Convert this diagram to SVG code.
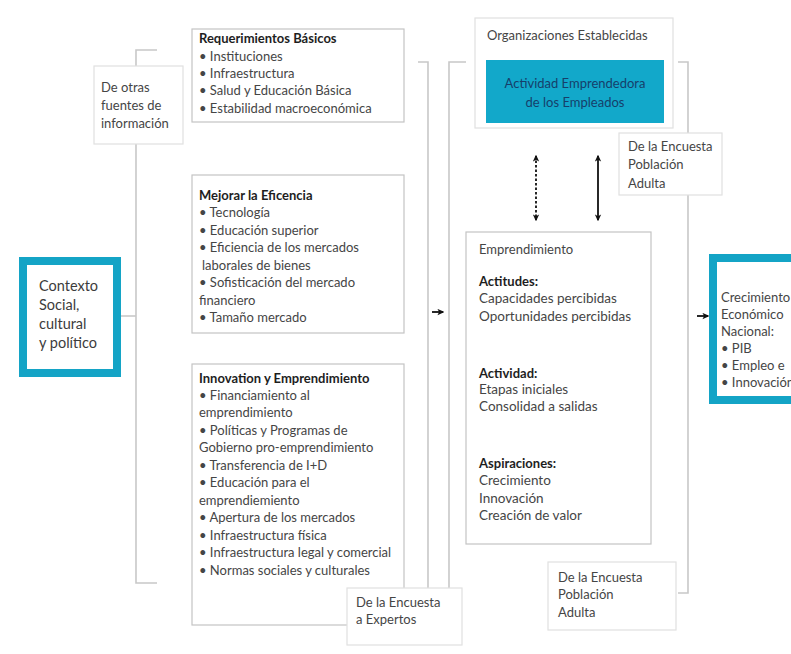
<svg xmlns="http://www.w3.org/2000/svg" width="791" height="654" viewBox="0 0 791 654">
<defs>
<style>
text{font-family:Lato,"Open Sans","Liberation Sans",sans-serif;font-size:13px;fill:#454545}
.b{font-weight:bold;fill:#1e1e1e}
.box{fill:#fff;stroke:#c4c4c4;stroke-width:1.2}
.lbox{fill:#fff;stroke:#e0e0e0;stroke-width:1.2}
.teal{fill:#fff;stroke:#14a4c6;stroke-width:8}
.ln{fill:none;stroke:#c8c8c8;stroke-width:1.6}
.ar{fill:none;stroke:#111;stroke-width:1.8}
.big{font-size:14.5px;fill:#3c3c3c}
.cr{font-size:13px}
</style>
<marker id="ah" viewBox="0 0 10 10" refX="8" refY="5" markerWidth="7" markerHeight="7" orient="auto-start-reverse" markerUnits="userSpaceOnUse">
<path d="M0,0.5 L10,5 L0,9.5 L2.5,5 z" fill="#111"/>
</marker>
</defs>
<rect width="791" height="654" fill="#fff"/>

<g id="connectors">
<path class="ln" d="M157,50 H136 V583 H157"/>
<path class="ln" d="M121,316 H136"/>
<path class="ln" d="M418,62 H428 V600"/>
<path class="ln" d="M466,62 H449 V600"/>
<path class="ln" d="M678,62 H688 V593 H678"/>
<path class="ar" d="M432,312 H443" marker-end="url(#ah)"/>
<path class="ar" d="M697,316 H708" marker-end="url(#ah)"/>
<path class="ar" d="M536,156 V220" stroke-dasharray="2.5,2" marker-start="url(#ah)" marker-end="url(#ah)"/>
<path class="ar" d="M598,156 V220" marker-start="url(#ah)" marker-end="url(#ah)"/>
</g>

<g id="otras">
<rect class="lbox" x="94" y="66" width="89" height="78"/>
<text x="101" y="92">De otras</text>
<text x="101" y="110">fuentes de</text>
<text x="101" y="128">información</text>
</g>

<g id="contexto">
<rect class="teal" x="23" y="261" width="94" height="112"/>
<text class="big" x="39" y="291">Contexto</text>
<text class="big" x="39" y="310">Social,</text>
<text class="big" x="39" y="329">cultural</text>
<text class="big" x="39" y="348">y político</text>
</g>

<g id="requerimientos">
<rect class="box" x="192" y="29" width="212" height="93"/>
<text class="b" x="199" y="43">Requerimientos Básicos</text>
<text x="199" y="61">• Instituciones</text>
<text x="199" y="78">• Infraestructura</text>
<text x="199" y="95">• Salud y Educación Básica</text>
<text x="199" y="113">• Estabilidad macroeconómica</text>
</g>

<g id="eficiencia">
<rect class="box" x="192" y="175" width="212" height="158"/>
<text class="b" x="199" y="200">Mejorar la Eficencia</text>
<text x="199" y="217">• Tecnología</text>
<text x="199" y="235">• Educación superior</text>
<text x="199" y="252">• Eficiencia de los mercados</text>
<text x="202" y="270">laborales de bienes</text>
<text x="199" y="287">• Sofisticación del mercado</text>
<text x="199" y="305">financiero</text>
<text x="199" y="322">• Tamaño mercado</text>
</g>

<g id="innovation">
<rect class="box" x="192" y="364" width="212" height="261"/>
<text class="b" x="199" y="383">Innovation y Emprendimiento</text>
<text x="199" y="400">• Financiamiento al</text>
<text x="199" y="417">emprendimiento</text>
<text x="199" y="435">• Políticas y Programas de</text>
<text x="199" y="452">Gobierno pro-emprendimiento</text>
<text x="199" y="470">• Transferencia de I+D</text>
<text x="199" y="487">• Educación para el</text>
<text x="199" y="505">emprendiemiento</text>
<text x="199" y="522">• Apertura de los mercados</text>
<text x="199" y="540">• Infraestructura física</text>
<text x="199" y="557">• Infraestructura legal y comercial</text>
<text x="199" y="575">• Normas sociales y culturales</text>
</g>

<g id="expertos">
<rect class="lbox" x="347" y="588" width="115" height="57"/>
<text x="356" y="607">De la Encuesta</text>
<text x="356" y="624">a Expertos</text>
</g>

<g id="organizaciones">
<rect class="lbox" x="475" y="18" width="198" height="110"/>
<text x="487" y="40">Organizaciones Establecidas</text>
<rect x="486" y="60" width="178" height="63" fill="#12a8ca"/>
<text x="575" y="88" text-anchor="middle" style="fill:#163f6a">Actividad Emprendedora</text>
<text x="575" y="107" text-anchor="middle" style="fill:#163f6a">de los Empleados</text>
</g>

<g id="encuesta-top">
<rect class="lbox" x="619" y="133" width="103" height="62"/>
<text x="628" y="151">De la Encuesta</text>
<text x="628" y="169">Población</text>
<text x="628" y="188">Adulta</text>
</g>

<g id="emprendimiento">
<rect class="box" x="466" y="232" width="185" height="312"/>
<text x="479" y="254">Emprendimiento</text>
<text class="b" x="479" y="286">Actitudes:</text>
<text x="479" y="303" style="font-size:13.5px">Capacidades percibidas</text>
<text x="479" y="321" style="font-size:13.5px">Oportunidades percibidas</text>
<text class="b" x="479" y="378">Actividad:</text>
<text x="479" y="394" style="font-size:13.5px">Etapas iniciales</text>
<text x="479" y="411" style="font-size:13.5px">Consolidad a salidas</text>
<text class="b" x="479" y="468">Aspiraciones:</text>
<text x="479" y="485" style="font-size:13.5px">Crecimiento</text>
<text x="479" y="503" style="font-size:13.5px">Innovación</text>
<text x="479" y="520" style="font-size:13.5px">Creación de valor</text>
</g>

<g id="encuesta-bottom">
<rect class="lbox" x="548" y="562" width="128" height="68"/>
<text x="558" y="582">De la Encuesta</text>
<text x="558" y="599">Población</text>
<text x="558" y="617">Adulta</text>
</g>

<g id="crecimiento">
<rect class="teal" x="713" y="258" width="100" height="142"/>
<text class="cr" x="721" y="302">Crecimiento</text>
<text class="cr" x="721" y="319">Económico</text>
<text class="cr" x="721" y="336">Nacional:</text>
<text class="cr" x="721" y="353">• PIB</text>
<text class="cr" x="721" y="370">• Empleo e</text>
<text class="cr" x="721" y="387">• Innovación</text>
</g>
</svg>
